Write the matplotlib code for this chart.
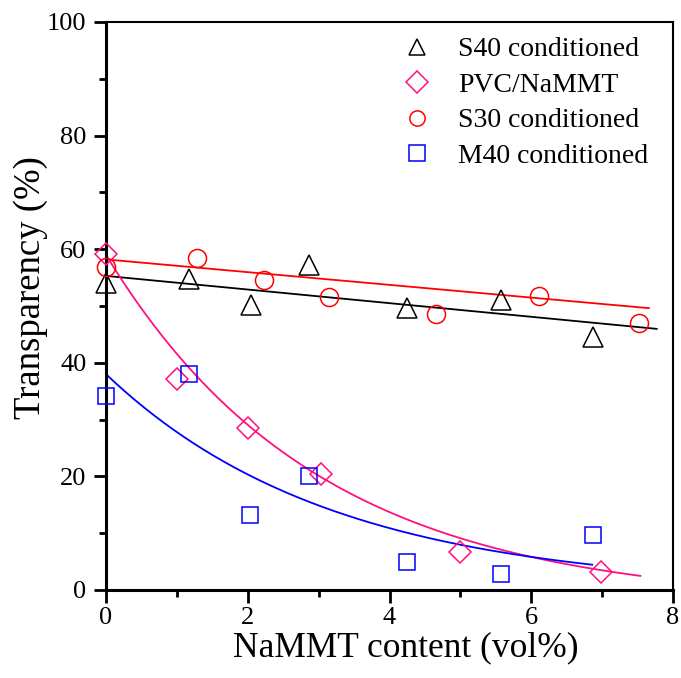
import numpy as np
import matplotlib
matplotlib.use("Agg")
import matplotlib.pyplot as plt
from matplotlib.ticker import MultipleLocator

plt.rcParams['font.family'] = ['Liberation Serif', 'DejaVu Serif']

# --- data ---
s40_x = [0.0, 1.17, 2.04, 2.86, 4.24, 5.58, 6.87]
s40_y = [54.0, 54.7, 50.2, 57.2, 49.6, 51.0, 44.6]

pvc_x = [0.0, 1.0, 2.0, 3.03, 5.0, 6.99]
pvc_y = [59.1, 37.2, 28.6, 20.5, 6.7, 3.2]

s30_x = [0.0, 1.28, 2.23, 3.15, 4.65, 6.11, 7.52]
s30_y = [56.8, 58.4, 54.6, 51.6, 48.6, 51.8, 47.0]

m40_x = [0.0, 1.17, 2.03, 2.87, 4.24, 5.58, 6.87]
m40_y = [34.2, 38.0, 13.2, 20.1, 4.9, 2.9, 9.7]

# fitted curves (parameters)
s40_fit = dict(intercept=55.3, slope=-1.20, xmax=7.77)
s30_fit = dict(intercept=58.2, slope=-1.12, xmax=7.66)
pvc_fit = dict(y0=-2.5, A=61.5, t=3.0, xmax=7.54)
m40_fit = dict(y0=0.0, A=38.0, t=3.2, xmax=6.86)

labels = ['S40 conditioned', 'PVC/NaMMT', 'S30 conditioned', 'M40 conditioned']

fig = plt.figure(figsize=(6.81, 6.78), dpi=100)
ax = fig.add_axes([106/681, 88/678, (673-106)/681, (590-22)/678])

# fit lines
xs = np.linspace(0, s40_fit['xmax'], 200)
ax.plot(xs, s40_fit['intercept'] + s40_fit['slope']*xs, color='black', lw=1.3)
xs = np.linspace(0, s30_fit['xmax'], 200)
ax.plot(xs, s30_fit['intercept'] + s30_fit['slope']*xs, color='red', lw=1.3)
xs = np.linspace(0, pvc_fit['xmax'], 200)
ax.plot(xs, pvc_fit['y0'] + pvc_fit['A']*np.exp(-xs/pvc_fit['t']), color='#FF1080', lw=1.3)
xs = np.linspace(0, m40_fit['xmax'], 200)
ax.plot(xs, m40_fit['y0'] + m40_fit['A']*np.exp(-xs/m40_fit['t']), color='blue', lw=1.3)

# markers
mk = dict(ls='none', mfc='none', mew=1.1, clip_on=False, zorder=5)
ax.plot(s40_x, s40_y, marker='^', ms=14, mec='black', label=labels[0], **mk)
ax.plot(pvc_x, pvc_y, marker='D', ms=11, mec='#FF1080', label=labels[1], **mk)
ax.plot(s30_x, s30_y, marker='o', ms=13, mec='red', label=labels[2], **mk)
ax.plot(m40_x, m40_y, marker='s', ms=11, mec='blue', label=labels[3], **mk)

ax.set_xlim(0, 8)
ax.set_ylim(0, 100)
ax.xaxis.set_major_locator(MultipleLocator(2))
ax.xaxis.set_minor_locator(MultipleLocator(1))
ax.yaxis.set_major_locator(MultipleLocator(20))
ax.yaxis.set_minor_locator(MultipleLocator(10))

ax.tick_params(which='major', direction='out', length=9, width=2, labelsize=19, pad=3)
ax.tick_params(axis='y', which='major', pad=5)
ax.tick_params(which='minor', direction='out', length=5, width=2)
ax.tick_params(which='both', top=False, right=False)
for s in ['left', 'bottom']:
    ax.spines[s].set_linewidth(2.2)
for s in ['top', 'right']:
    ax.spines[s].set_linewidth(1.5)

ax.set_xlabel('NaMMT content (vol%)', fontsize=25.5)
ax.set_ylabel('Transparency (%)', fontsize=26.5)
ax.xaxis.set_label_coords(0.529, -0.072)
ax.yaxis.set_label_coords(-0.102, 0.532)

leg = ax.legend(loc='upper right', frameon=False, fontsize=20, handlelength=1.2,
                handletextpad=0.85, labelspacing=0.36, borderaxespad=0.3,
                bbox_to_anchor=(0.99, 1.008))
for h in leg.legend_handles:
    h.set_markersize(11)

fig.savefig('out.png', dpi=100)
